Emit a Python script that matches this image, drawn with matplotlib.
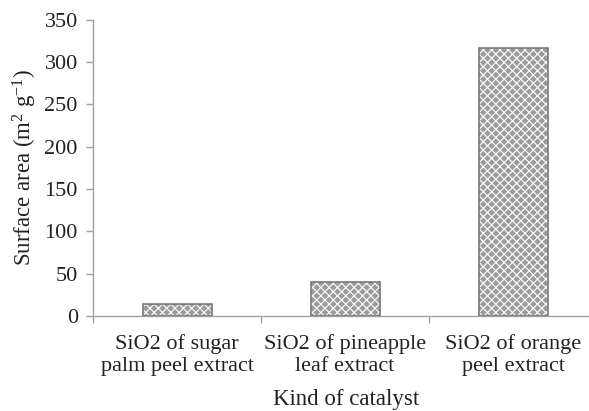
import matplotlib
matplotlib.use("Agg")
import matplotlib.pyplot as plt
import numpy as np

categories = ["SiO2 of sugar\npalm peel extract",
              "SiO2 of pineapple\nleaf extract",
              "SiO2 of orange\npeel extract"]
surface_area = [14, 40, 316]
yticks = [0, 50, 100, 150, 200, 250, 300, 350]

plt.rcParams["font.family"] = ["Liberation Serif", "DejaVu Serif"]
plt.rcParams["mathtext.fontset"] = "custom"
plt.rcParams["mathtext.rm"] = "Liberation Serif"
plt.rcParams["mathtext.it"] = "Liberation Serif:italic"
plt.rcParams["hatch.linewidth"] = 0.8

fig = plt.figure(figsize=(5.89, 4.11), dpi=100)
# axis runs past the right edge of the figure, like the cropped original
ax = fig.add_axes([0.158, 0.2311, 0.8557, 0.7214])

x = np.arange(len(categories))
w = 0.41
# fill with white hatch, then outline separately
ax.bar(x, surface_area, width=w, color="#9c9c9c", edgecolor="white",
       hatch="xxxx", linewidth=0, zorder=2)
ax.bar(x, surface_area, width=w, fill=False, edgecolor="#7a7a7a",
       linewidth=1.2, zorder=3)

ax.set_xlim(-0.5, len(categories) - 0.5)
ax.set_ylim(0, 350)
ax.set_yticks(yticks)

# tick marks between categories, labels at centres
ax.set_xticks(np.arange(len(categories)) - 0.5)
ax.set_xticklabels([])
ax.set_xticks(x, minor=True)
ax.set_xticklabels(categories, minor=True)
ax.tick_params(axis="x", which="minor", length=0, pad=13)
ax.tick_params(axis="x", which="major", length=5, color="#a0a0a0", width=1)
ax.tick_params(axis="y", length=5, color="#a0a0a0", width=1, pad=6)
ax.tick_params(which="both", labelsize=16, labelcolor="#222222")
for lbl in ax.get_xticklabels(minor=True):
    lbl.set_linespacing(1.2)

for side in ["top", "right"]:
    ax.spines[side].set_visible(False)
for side in ["left", "bottom"]:
    ax.spines[side].set_color("#a0a0a0")
    ax.spines[side].set_linewidth(1)

ax.set_ylabel(r"Surface area (m$^{\mathregular{2}}$ g$^{\mathregular{-1}}$)",
              fontsize=16.5, color="#222222", labelpad=4)
fig.text(346 / 589, 0.015, "Kind of catalyst", ha="center", fontsize=16.5,
         color="#222222")

fig.savefig("out.png", dpi=100)
